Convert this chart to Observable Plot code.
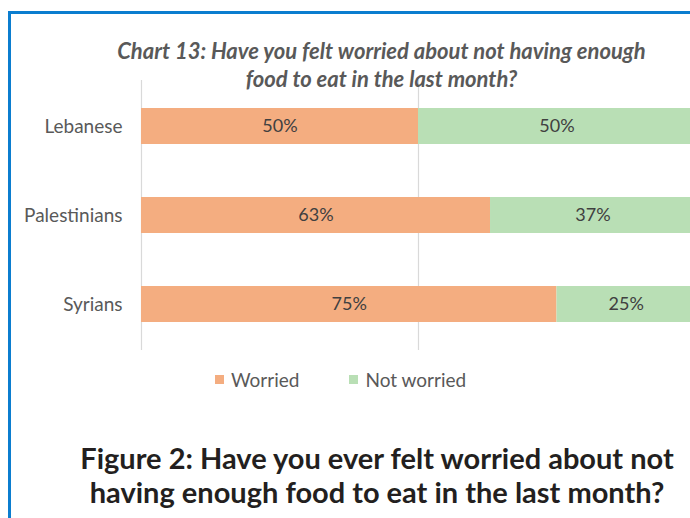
<!DOCTYPE html>
<html>
<head>
<meta charset="utf-8">
<script src="https://cdn.jsdelivr.net/npm/d3@7"></script>
<script src="https://cdn.jsdelivr.net/npm/@observablehq/plot@0.6"></script>
<style>
  html, body { margin: 0; padding: 0; background: white; overflow: hidden; }
  #wrap { position: relative; width: 690px; height: 518px; overflow: hidden; }
  #frame { position: absolute; left: 8px; top: 11px; width: 720px; height: 600px;
           border-left: 3px solid #0b7dcf; border-top: 3px solid #0b7dcf; }
  #ctitle { position: absolute; left: 0; top: 37px; width: 763px; text-align: center;
            font-family: Lato, sans-serif; font-style: italic; font-weight: bold;
            font-size: 22px; line-height: 28px; color: #595959; }
  #chart { position: absolute; left: 0; top: 0; }
  #legend { position: absolute; top: 365px; left: 215px; font-family: Lato, sans-serif;
            font-size: 19px; color: #595959; white-space: nowrap; }
  #legend span.item { display: inline-flex; align-items: center; margin-right: 50px; }
  #legend span.sw { display: inline-block; width: 9px; height: 9px; margin-right: 7px; }
  #ftitle { position: absolute; left: 0; top: 441px; width: 754px; text-align: center;
            font-family: Lato, sans-serif; font-weight: bold; font-size: 29px;
            line-height: 34px; color: #231f20; }
</style>
</head>
<body>
<div id="wrap">
  <div id="frame"></div>
  <div id="chart"></div>
  <div id="ctitle">Chart 13: Have you felt worried about not having enough<br>food to eat in the last month?</div>
  <div id="legend"></div>
  <div id="ftitle">Figure 2: Have you ever felt worried about not<br>having enough food to eat in the last month?</div>
</div>
<script>
const groups = ["Lebanese", "Palestinians", "Syrians"];
const statuses = ["Worried", "Not worried"];
const worried = [0.50, 0.63, 0.75];
const notWorried = [0.50, 0.37, 0.25];
const colors = ["#f4ad80", "#b9dfb5"];
const gridTicks = [0, 0.5, 1];

const data = [];
groups.forEach((g, i) => {
  data.push({group: g, status: statuses[0], value: worried[i]});
  data.push({group: g, status: statuses[1], value: notWorried[i]});
});

const chart = Plot.plot({
  width: 690,
  height: 360,
  marginTop: 80,
  marginBottom: 10,
  marginLeft: 141,
  marginRight: -5,
  style: {background: "transparent", overflow: "hidden", fontFamily: "Lato, sans-serif", fontSize: "19px", color: "#595959"},
  x: {domain: [0, 1], axis: null},
  y: {domain: groups, paddingInner: 0.6, paddingOuter: 0.31, label: null},
  color: {domain: statuses, range: colors},
  marks: [
    Plot.ruleX(gridTicks, {stroke: "#d9d9d9", strokeWidth: 1.2}),
    Plot.barX(data, Plot.stackX({x: "value", y: "group", fill: "status"})),
    Plot.text(data, Plot.stackX({x: "value", y: "group", z: "status",
      text: d => Math.round(d.value * 100) + "%", fill: "#404040", fontSize: 18})),
    Plot.axisY({tickSize: 0, tickPadding: 19, label: null, fontSize: 19})
  ]
});
document.getElementById("chart").appendChild(chart);

const legend = document.getElementById("legend");
statuses.forEach((s, i) => {
  const item = document.createElement("span");
  item.className = "item";
  const sw = document.createElement("span");
  sw.className = "sw";
  sw.style.background = colors[i];
  item.appendChild(sw);
  item.appendChild(document.createTextNode(s));
  legend.appendChild(item);
});
</script>
</body>
</html>
